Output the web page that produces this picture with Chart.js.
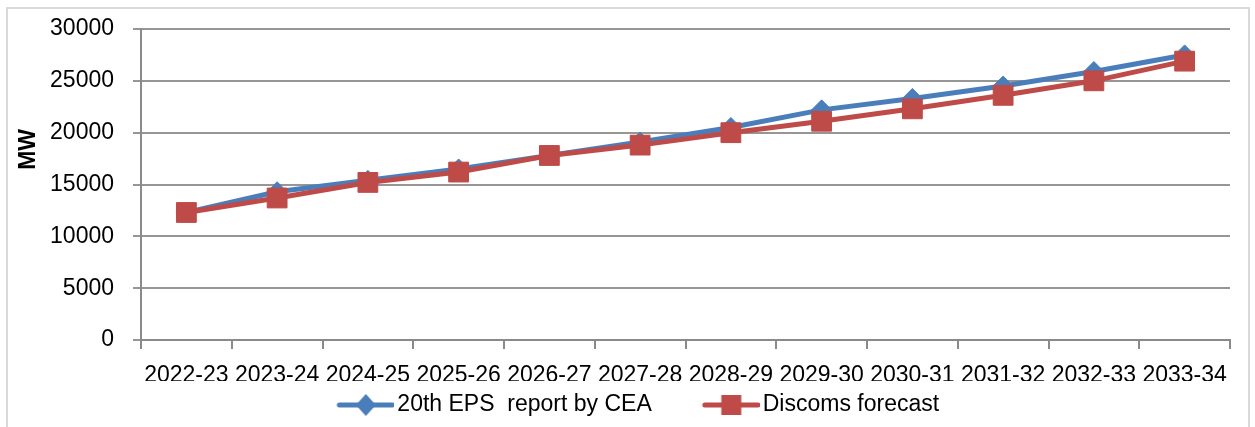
<!DOCTYPE html>
<html>
<head>
<meta charset="utf-8">
<script src="https://cdn.jsdelivr.net/npm/chart.js@4"></script>
<style>
  html, body { margin: 0; padding: 0; background: #fff; }
  #wrap { position: relative; width: 1255px; height: 427px; overflow: hidden; }
  #frame { position: absolute; left: 6px; top: 7px; width: 1244px; height: 430px; border: 2px solid #d9d9d9; box-sizing: border-box; pointer-events: none; }
</style>
</head>
<body>
<div id="wrap">
  <canvas id="c"></canvas>
  <div id="frame"></div>
</div>
<script>
// ---- data ----
const categories = ['2022-23','2023-24','2024-25','2025-26','2026-27','2027-28','2028-29','2029-30','2030-31','2031-32','2032-33','2033-34'];
const epsValues = [12300, 14300, 15400, 16500, 17800, 19100, 20500, 22200, 23300, 24500, 25900, 27500];
const discomValues = [12300, 13700, 15200, 16200, 17800, 18800, 20000, 21100, 22300, 23600, 25000, 26900];
const seriesNames = ['20th EPS  report by CEA', 'Discoms forecast'];
const yTicks = [0, 5000, 10000, 15000, 20000, 25000, 30000];
const yTitle = 'MW';

const BLUE = '#4a7ebb';
const RED = '#be4b48';
const FONT = "'Liberation Sans', Arial, sans-serif";

function legendImage(color, style) {
  const c = document.createElement('canvas');
  c.width = 104; c.height = 26;
  const g = c.getContext('2d');
  g.strokeStyle = color; g.lineWidth = 5; g.lineCap = 'round';
  g.beginPath(); g.moveTo(49, 13); g.lineTo(102, 13); g.stroke();
  g.fillStyle = color;
  const cx = 75.5, cy = 13;
  g.beginPath();
  if (style === 'diamond') {
    g.moveTo(cx - 10, cy); g.lineTo(cx, cy - 11); g.lineTo(cx + 10, cy); g.lineTo(cx, cy + 11);
  } else {
    g.rect(cx - 10, cy - 10, 20, 20);
  }
  g.closePath(); g.fill();
  return c;
}
const legendImgs = [legendImage(BLUE, 'diamond'), legendImage(RED, 'square')];

Chart.defaults.font.family = FONT;
Chart.defaults.color = '#000';

new Chart(document.getElementById('c'), {
  type: 'line',
  data: {
    labels: categories,
    datasets: [
      {
        label: seriesNames[0], data: epsValues, order: 1,
        borderColor: BLUE, backgroundColor: BLUE, borderWidth: 5, tension: 0,
        pointStyle: 'rectRot', pointRadius: 10, pointBorderWidth: 1,
        pointBackgroundColor: BLUE, pointBorderColor: BLUE
      },
      {
        label: seriesNames[1], data: discomValues, order: 0,
        borderColor: RED, backgroundColor: RED, borderWidth: 5, tension: 0,
        pointStyle: 'rect', pointRadius: 14, pointBorderWidth: 1,
        pointBackgroundColor: RED, pointBorderColor: RED
      }
    ]
  },
  options: {
    responsive: true,
    maintainAspectRatio: false,
    animation: false,
    layout: { padding: { top: 29, right: 25, bottom: 0.5, left: 8 } },
    plugins: {
      tooltip: { enabled: false },
      legend: {
        position: 'bottom',
        labels: {
          usePointStyle: true,
          pointStyleWidth: 87,
          padding: 12.5,
          color: '#000',
          font: { size: 23, family: FONT },
          generateLabels: (chart) => chart.data.datasets.map((ds, i) => ({
            text: ds.label,
            pointStyle: legendImgs[i],
            fillStyle: ds.borderColor,
            strokeStyle: ds.borderColor,
            lineWidth: 0,
            hidden: false,
            fontColor: '#000',
            datasetIndex: i
          }))
        }
      }
    },
    scales: {
      x: {
        type: 'category',
        offset: true,
        afterFit: (s) => { s.height = 41; s.paddingLeft = 0; s.paddingRight = 0; },
        grid: { display: true, offset: true, drawOnChartArea: false, drawTicks: true, tickLength: 9, color: '#8a8a8a', lineWidth: 2 },
        border: { display: true, color: '#8a8a8a', width: 2 },
        ticks: { autoSkip: false, maxRotation: 0, minRotation: 0, padding: 13, color: '#000', font: { size: 23, family: FONT } }
      },
      y: {
        min: 0, max: 30000,
        afterFit: (s) => { s.width = 133; s.paddingTop = 12; s.paddingBottom = 12; },
        afterBuildTicks: (s) => { s.ticks = yTicks.map(v => ({ value: v })); },
        grid: { color: '#969696', lineWidth: 2, tickLength: 8, drawTicks: true },
        border: { display: true, color: '#8a8a8a', width: 2 },
        ticks: { padding: 19, color: '#000', font: { size: 23, family: FONT }, callback: (v) => String(v) },
        title: {
          display: true,
          text: '           ' + yTitle,
          color: '#000',
          font: { size: 23, weight: 'bold', family: FONT },
          padding: { top: 7, bottom: 0 }
        }
      }
    }
  }
});
</script>
</body>
</html>
